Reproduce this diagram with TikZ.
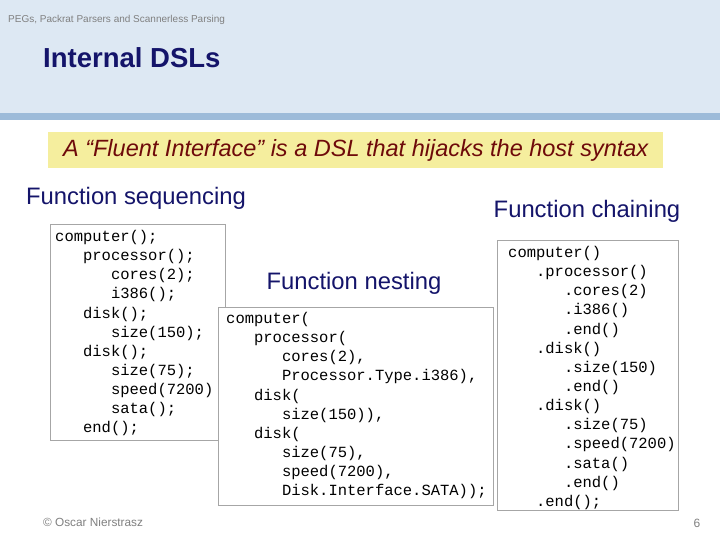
\documentclass[tikz,border=0pt]{standalone}
\usepackage{fontspec}
\setmainfont{Liberation Sans}
\setmonofont{Liberation Mono}
\definecolor{band}{HTML}{DDE8F3}
\definecolor{stripe}{HTML}{9DBBD9}
\definecolor{navy}{HTML}{14146A}
\definecolor{qred}{HTML}{6E0A0A}
\definecolor{qbox}{HTML}{F5EE9E}
\newcommand{\ind}[1]{\hspace*{#1\dimexpr0.6em\relax}}
\begin{document}
\begin{tikzpicture}[x=1pt,y=-1pt,
  codebox/.style={draw=gray!70,fill=white,line width=0.6pt,inner sep=0,anchor=north west},
  code/.style={font=\ttfamily\fontsize{15.5}{19.15}\selectfont,align=left,anchor=north west,inner sep=0},
  head/.style={font=\fontsize{23.8}{27}\selectfont,text=navy,inner sep=0}]
\useasboundingbox (0,0) rectangle (720,540);
\fill[white] (0,0) rectangle (720,540);
\fill[band] (0,0) rectangle (720,113);
\fill[stripe] (0,113) rectangle (720,120);
\node[font=\fontsize{10}{12}\selectfont,text=gray,anchor=west,inner sep=0] (top) at (8,20) {PEGs, Packrat Parsers and Scannerless Parsing};
\node[font=\bfseries\fontsize{27.5}{31}\selectfont,text=navy,anchor=west,inner sep=0] (title) at (43,58) {Internal DSLs};
\node[fill=qbox,minimum width=615,minimum height=36,inner sep=0,anchor=north west,font=\itshape\fontsize{23.5}{26}\selectfont,text=qred] (quote) at (48,132) {A “Fluent Interface” is a DSL that hijacks the host syntax};
\node[head,anchor=west] (seq) at (26,198) {Function sequencing};
\node[head] (nest) at (354,283) {Function nesting};
\node[head] (chain) at (587,211) {Function chaining};
% left box
\node[codebox,minimum width=175,minimum height=216] (lbox) at (50,224) {};
\node[code] (lcode) at (55,230) {computer();\\
\ind3processor();\\
\ind6cores(2);\\
\ind6i386();\\
\ind3disk();\\
\ind6size(150);\\
\ind3disk();\\
\ind6size(75);\\
\ind6speed(7200)\\
\ind6sata();\\
\ind3end();};
% nesting box
\node[codebox,minimum width=275,minimum height=198] (nbox) at (218,307) {};
\node[code] (ncode) at (226,312) {computer(\\
\ind3processor(\\
\ind6cores(2),\\
\ind6Processor.Type.i386),\\
\ind3disk(\\
\ind6size(150)),\\
\ind3disk(\\
\ind6size(75),\\
\ind6speed(7200),\\
\ind6Disk.Interface.SATA));};
% right box
\node[codebox,minimum width=181,minimum height=270] (rbox) at (497,240) {};
\node[code] (rcode) at (508,246) {computer()\\
\ind3.processor()\\
\ind6.cores(2)\\
\ind6.i386()\\
\ind6.end()\\
\ind3.disk()\\
\ind6.size(150)\\
\ind6.end()\\
\ind3.disk()\\
\ind6.size(75)\\
\ind6.speed(7200)\\
\ind6.sata()\\
\ind6.end()\\
\ind3.end();};
\node[font=\fontsize{11.8}{14}\selectfont,text=gray,anchor=west,inner sep=0] (foot) at (43,522) {© Oscar Nierstrasz};
\node[font=\fontsize{12}{14}\selectfont,text=gray,inner sep=0] (num) at (697,523) {6};
\end{tikzpicture}
\end{document}
